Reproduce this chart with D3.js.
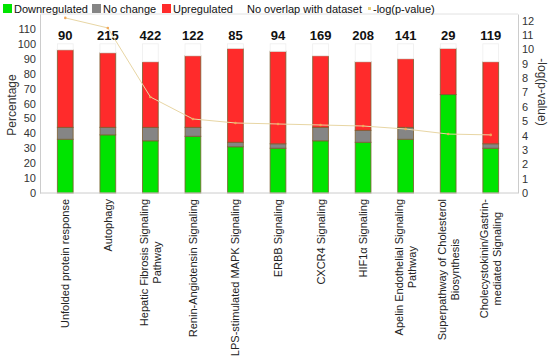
<!DOCTYPE html>
<html><head><meta charset="utf-8">
<script src="https://cdn.jsdelivr.net/npm/d3@7"></script>
<style>body{margin:0;background:#fff;} text{font-family:"Liberation Sans",Arial,Helvetica,sans-serif;}</style>
</head><body><svg id="c" width="550" height="361"></svg>
<script>
const categories = [["Unfolded protein response"],["Autophagy"],["Hepatic Fibrosis Signaling","Pathway"],["Renin-Angiotensin Signaling"],["LPS-stimulated MAPK Signaling"],["ERBB Signaling"],["CXCR4 Signaling"],["HIF1α Signaling"],["Apelin Endothelial Signaling","Pathway"],["Superpathway of Cholesterol","Biosynthesis"],["Cholecystokinin/Gastrin-","mediated Signaling"]];
const counts = [90,215,422,122,85,94,169,208,141,29,119];
const down = [36,39,35,38,31,30,35,34,36,66,30];
const noChange = [8,5,9,6,3,3,9,8,8,0,3];
const up = [52,50,44,48,63,62,48,46,46,31,55];
const pvals = [12.18,11.48,6.68,5.15,4.87,4.8,4.73,4.66,4.45,4.1,4.04];
const leftTicks = [0,10,20,30,40,50,60,70,80,90,100,110];
const rightTicks = [0,1,2,3,4,5,6,7,8,9,10,11,12];
const seriesNames = ["Downregulated","No change","Upregulated","No overlap with dataset","-log(p-value)"];
const colors = ["#00e400","#858585","#ff2b2b","#ffffff"];

const svg = d3.select("#c");
const L=40, R=518, T=14, B=193;
const x = d3.scaleBand().domain(d3.range(categories.length)).range([44,512]).paddingInner(0.63).paddingOuter(0.315);
const y = d3.scaleLinear().domain([0,120]).range([B,T]);
const y2 = d3.scaleLinear().domain([0,12.45]).range([B,T]);

svg.append("line").attr("x1",L).attr("x2",R).attr("y1",T).attr("y2",T).attr("stroke","#e2e2e2");

const rows = categories.map((c,i)=>({i, d:down[i], n:noChange[i], u:up[i], o:Math.max(0,100-down[i]-noChange[i]-up[i])}));
const stack = d3.stack().keys(["d","n","u","o"])(rows);
stack.forEach((s,k)=>{
  svg.append("g").selectAll("rect").data(s).join("rect")
    .attr("x",d=>x(d.data.i)).attr("width",x.bandwidth())
    .attr("y",d=>y(d[1])).attr("height",d=>Math.max(0,y(d[0])-y(d[1])))
    .attr("fill",colors[k])
    .attr("stroke",k===3?"#eeeeee":"#7a5c2e").attr("stroke-width",k===3?0.8:1)
    .attr("stroke-opacity",k===3?1:0.8);
});

const ax = svg.append("g").attr("transform",`translate(${L},0)`)
  .call(d3.axisLeft(y).tickValues(leftTicks).tickSize(0).tickPadding(4));
ax.select(".domain").attr("stroke","#ccc");
ax.selectAll("text").attr("font-size",11).attr("fill","#333").attr("font-family","Liberation Sans,Arial");
const ax2 = svg.append("g").attr("transform",`translate(${R},0)`)
  .call(d3.axisRight(y2).tickValues(rightTicks).tickSize(0).tickPadding(4));
ax2.select(".domain").attr("stroke","#ccc");
ax2.selectAll("text").attr("font-size",11).attr("fill","#333").attr("font-family","Liberation Sans,Arial");
svg.append("line").attr("x1",L).attr("x2",R).attr("y1",B).attr("y2",B).attr("stroke","#ccc");

svg.append("text").attr("transform",`translate(16,105) rotate(-90)`).attr("text-anchor","middle")
  .attr("font-size",12).attr("fill","#333").text("Percentage");
svg.append("text").attr("transform",`translate(538,92) rotate(90)`).attr("text-anchor","middle")
  .attr("font-size",12).attr("fill","#333").text("-log(p-value)");

svg.append("g").selectAll("text").data(counts).join("text")
  .attr("x",(d,i)=>x(i)+x.bandwidth()/2).attr("y",40).attr("text-anchor","middle")
  .attr("font-size",13).attr("font-weight","bold").attr("fill","#111").text(d=>d);

const line = d3.line().x((d,i)=>x(i)+x.bandwidth()/2).y(d=>y2(d));
svg.append("path").datum(pvals).attr("d",line).attr("fill","none").attr("stroke","#e8d6a4").attr("stroke-width",1);
svg.append("g").selectAll("circle").data(pvals).join("circle")
  .attr("cx",(d,i)=>x(i)+x.bandwidth()/2).attr("cy",d=>y2(d)).attr("r",1.3).attr("fill","#f2a85a");

const xl = svg.append("g");
categories.forEach((lines,i)=>{
  const cx = x(i)+x.bandwidth()/2;
  const g = xl.append("g");
  const tmp = lines.map(t=>g.append("text").attr("font-size",11).attr("fill","#222").text(t));
  const maxW = d3.max(tmp,t=>t.node().getComputedTextLength());
  const n = lines.length, lh = 13;
  tmp.forEach((t,j)=>{
    const off = (j-(n-1)/2)*lh;
    t.attr("text-anchor","middle")
     .attr("transform",`translate(${cx+off+4},${199+maxW/2}) rotate(-90)`);
  });
});

// legend
const lg = svg.append("g");
const legX = [3, 92, 162, 236, 366];
const legC = [colors[0],colors[1],colors[2],"#fff",null];
seriesNames.forEach((name,k)=>{
  const lx = legX[k];
  if(legC[k]){
    lg.append("rect").attr("x",lx).attr("y",4).attr("width",9).attr("height",9).attr("fill",legC[k]);
  } else {
    lg.append("rect").attr("x",lx+2).attr("y",7).attr("width",3).attr("height",3).attr("fill","#e8d07a");
  }
  lg.append("text").attr("x",lx+(legC[k]?11:7)).attr("y",12.5).attr("font-size",11).attr("fill","#111").text(name);
});
</script></body></html>
